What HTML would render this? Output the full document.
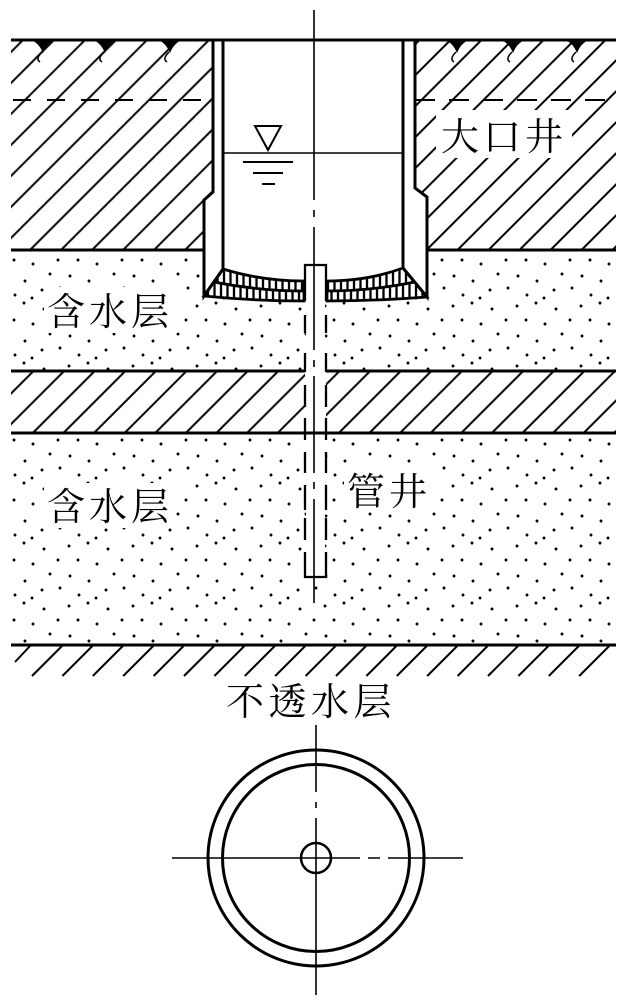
<!DOCTYPE html>
<html><head><meta charset="utf-8"><style>
html,body{margin:0;padding:0;background:#fff;}
svg{display:block;}
text{font-family:"Liberation Serif","Noto Serif CJK SC","Noto Sans CJK SC",serif;fill:#000;}
</style></head><body>
<svg width="626" height="1000" viewBox="0 0 626 1000" xmlns="http://www.w3.org/2000/svg">
<defs>
<pattern id="hA" patternUnits="userSpaceOnUse" width="21.92" height="20" patternTransform="rotate(45)">
<line x1="0.71" y1="-1" x2="0.71" y2="21" stroke="#000" stroke-width="2"/>
<line x1="22.63" y1="-1" x2="22.63" y2="21" stroke="#000" stroke-width="2"/>
</pattern>
<pattern id="hB" patternUnits="userSpaceOnUse" width="21.92" height="20" patternTransform="rotate(45)">
<line x1="18.03" y1="-1" x2="18.03" y2="21" stroke="#000" stroke-width="2"/>
</pattern>
<pattern id="hC" patternUnits="userSpaceOnUse" width="21.64" height="20" patternTransform="rotate(45)">
<line x1="4.74" y1="-1" x2="4.74" y2="21" stroke="#000" stroke-width="2"/>
</pattern>
<pattern id="sand" patternUnits="userSpaceOnUse" width="64" height="60">
<circle cx="5" cy="6" r="1.45"/><circle cx="24" cy="3" r="1.45"/><circle cx="44" cy="9" r="1.45"/>
<circle cx="58" cy="20" r="1.45"/><circle cx="14" cy="20" r="1.45"/><circle cx="33" cy="24" r="1.45"/>
<circle cx="50" cy="34" r="1.45"/><circle cx="6" cy="36" r="1.45"/><circle cx="25" cy="41" r="1.45"/>
<circle cx="42" cy="50" r="1.45"/><circle cx="60" cy="48" r="1.45"/><circle cx="15" cy="55" r="1.45"/>
<circle cx="32" cy="58" r="1.45"/>
</pattern>
<pattern id="cellA" patternUnits="userSpaceOnUse" width="6.5" height="20">
<line x1="3" y1="0" x2="3" y2="20" stroke="#000" stroke-width="2.3"/>
</pattern>
<pattern id="cellB" patternUnits="userSpaceOnUse" width="6.5" height="20">
<line x1="0" y1="0" x2="0" y2="20" stroke="#000" stroke-width="2.3"/>
<line x1="6.5" y1="0" x2="6.5" y2="20" stroke="#000" stroke-width="2.3"/>
</pattern>
</defs>

<rect x="0" y="0" width="626" height="1000" fill="#fff"/>

<!-- sand layers -->
<rect x="11" y="250" width="605" height="121" fill="url(#sand)"/>
<rect x="11" y="433" width="605" height="212" fill="url(#sand)"/>

<!-- well interior / pipe interior white -->
<path d="M204,246 L427,246 L427,297 Q376,301 327,301 L304,301 Q255,301 204,296 Z" fill="#fff"/>
<rect x="306" y="300" width="19" height="277" fill="#fff"/>

<!-- hatched regions -->
<polygon points="11,40 213,40 213,192 204,200 204,250 11,250" fill="url(#hA)"/>
<polygon points="415,40 616,40 616,250 427,250 427,197 415,188" fill="url(#hB)"/>
<rect x="11" y="371" width="294" height="62" fill="url(#hC)"/>
<rect x="326" y="371" width="290" height="62" fill="url(#hC)"/>
<rect x="306" y="372" width="19" height="60" fill="#fff"/>

<!-- text backgrounds -->
<rect x="436" y="110" width="136" height="48" fill="#fff"/>
<rect x="44" y="287" width="134" height="46" fill="#fff"/>
<rect x="44" y="483" width="132" height="45" fill="#fff"/>
<rect x="344" y="466" width="88" height="46" fill="#fff"/>

<!-- dashed lines -->
<line x1="13" y1="100" x2="213" y2="100" stroke="#000" stroke-width="2" stroke-dasharray="18 16"/>
<line x1="415" y1="100" x2="616" y2="100" stroke="#000" stroke-width="2" stroke-dasharray="20 14"/>

<!-- ground symbols -->
<g fill="#000" stroke="none">
<path d="M31,40 L55,40 Q47,43 43,53 Q39,43 31,40 Z"/>
<path d="M93,40 L117,40 Q109,43 105,53 Q101,43 93,40 Z"/>
<path d="M158,40 L182,40 Q174,43 170,53 Q166,43 158,40 Z"/>
<path d="M445,40 L469,40 Q461,43 457,53 Q453,43 445,40 Z"/>
<path d="M501,40 L525,40 Q517,43 513,53 Q509,43 501,40 Z"/>
<path d="M565,40 L589,40 Q581,43 577,53 Q573,43 565,40 Z"/>
</g>
<g fill="none" stroke="#000" stroke-width="1.5">
<path d="M42,52 Q35,59 40,62"/>
<path d="M104,52 Q97,59 102,62"/>
<path d="M169,52 Q162,59 167,62"/>
<path d="M456,52 Q449,59 454,62"/>
<path d="M512,52 Q505,59 510,62"/>
<path d="M576,52 Q569,59 574,62"/>
</g>

<!-- layer lines -->
<g stroke="#000" stroke-width="3" fill="none">
<line x1="11" y1="40" x2="616" y2="40"/>
<line x1="11" y1="250" x2="204" y2="250"/>
<line x1="427" y1="250" x2="616" y2="250"/>
<line x1="11" y1="371" x2="305" y2="371"/>
<line x1="326" y1="371" x2="616" y2="371"/>
<line x1="11" y1="433" x2="616" y2="433"/>
<line x1="11" y1="645" x2="616" y2="645"/>
</g>

<!-- impermeable ticks -->
<g stroke="#000" stroke-width="2">
<line x1="15" y1="662" x2="30" y2="646"/>
<line x1="32" y1="676" x2="62" y2="646"/>
<line x1="62.4" y1="676" x2="92.4" y2="646"/>
<line x1="92.8" y1="676" x2="122.8" y2="646"/>
<line x1="123.2" y1="676" x2="153.2" y2="646"/>
<line x1="153.6" y1="676" x2="183.6" y2="646"/>
<line x1="184" y1="676" x2="214" y2="646"/>
<line x1="214.4" y1="676" x2="244.4" y2="646"/>
<line x1="244.8" y1="676" x2="274.8" y2="646"/>
<line x1="275.2" y1="676" x2="305.2" y2="646"/>
<line x1="305.6" y1="676" x2="335.6" y2="646"/>
<line x1="336" y1="676" x2="366" y2="646"/>
<line x1="366.4" y1="676" x2="396.4" y2="646"/>
<line x1="396.8" y1="676" x2="426.8" y2="646"/>
<line x1="427.2" y1="676" x2="457.2" y2="646"/>
<line x1="457.6" y1="676" x2="487.6" y2="646"/>
<line x1="488" y1="676" x2="518" y2="646"/>
<line x1="518.4" y1="676" x2="548.4" y2="646"/>
<line x1="548.8" y1="676" x2="578.8" y2="646"/>
<line x1="579.2" y1="676" x2="609.2" y2="646"/>
</g>

<!-- filter (gravel) -->
<path d="M223,269 Q262,281 304,281 L304,291 Q259,291 214,282 Z" fill="url(#cellA)"/>
<path d="M214,282 Q259,291 304,291 L304,301 Q255,301 204,296 Z" fill="url(#cellB)"/>
<path d="M327,281 Q368,281 403,268 L415,282 Q371,291 327,291 Z" fill="url(#cellA)"/>
<path d="M327,291 Q371,291 415,282 L427,297 Q376,301 327,301 Z" fill="url(#cellB)"/>
<g fill="none" stroke="#000" stroke-width="2.8">
<path d="M223,269 Q262,281 304,281 L304,301 Q255,301 204,296 Z"/>
<path d="M214,282 Q259,291 304,291"/>
<path d="M327,281 Q368,281 403,268 L427,297 Q376,301 327,301 Z"/>
<path d="M327,291 Q371,291 415,282"/>
</g>

<!-- well walls -->
<g fill="none" stroke="#000" stroke-width="3" stroke-linejoin="miter">
<path d="M213,40 L213,192 L204,200 L204,296 L223,269"/>
<path d="M223,40 L223,269"/>
<path d="M403,40 L403,268"/>
<path d="M415,40 L415,188 L427,197 L427,297 L403,268"/>
</g>

<!-- water level -->
<g stroke="#000" fill="none">
<line x1="223" y1="153" x2="403" y2="153" stroke-width="1.6"/>
<path d="M255,126 L281,126 L268,150 Z" stroke-width="2"/>
<line x1="243" y1="162" x2="293" y2="162" stroke-width="2"/>
<line x1="253" y1="173" x2="283" y2="173" stroke-width="2"/>
<line x1="262" y1="184" x2="275" y2="184" stroke-width="2"/>
</g>

<!-- pipe well -->
<g fill="none" stroke="#000" stroke-width="2.3">
<path d="M305,301 L305,265 L326,265 L326,301"/>
<path d="M305,315 V333 M305,353 V372 M305,385 V407 M305,418 V440 M305,452 V473 M305,485 V510 M305,518 V540 M305,552 V577 L326,577 V552 M326,540 V518 M326,510 V485 M326,473 V452 M326,440 V418 M326,407 V385 M326,372 V353 M326,333 V315"/>
</g>

<!-- center line -->
<path d="M314,10 V200 M314,210 V217 M314,227 V350 M314,360 V367 M314,376 V473 M314,482 V489 M314,499 V603" stroke="#000" stroke-width="1.6" fill="none"/>

<!-- labels -->
<text x="441" y="150" font-size="38" letter-spacing="4">大口井</text>
<text x="47" y="325" font-size="38" letter-spacing="4">含水层</text>
<text x="47" y="520" font-size="38" letter-spacing="4">含水层</text>
<text x="347" y="505" font-size="38" letter-spacing="4">管井</text>
<text x="226" y="715" font-size="38" letter-spacing="4.5">不透水层</text>

<!-- plan view -->
<g fill="none" stroke="#000">
<circle cx="316" cy="858" r="108" stroke-width="3"/>
<circle cx="316" cy="858" r="93.5" stroke-width="3"/>
<circle cx="316" cy="858" r="15" stroke-width="2.5"/>
<path d="M172,858 H360 M368,858 H380 M388,858 H463" stroke-width="1.6"/>
<path d="M316,725 V792 M316,802 V808 M316,818 V995" stroke-width="1.6"/>
</g>
</svg>
</body></html>
